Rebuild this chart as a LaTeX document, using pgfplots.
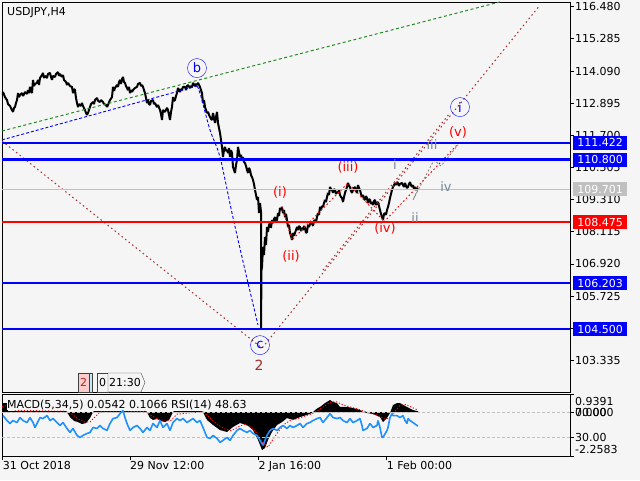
\documentclass[border=0pt]{standalone}
\usepackage{pgfplots}
\pgfplotsset{compat=1.18}
\usepackage{fontspec}
\setmainfont{DejaVu Sans}
\definecolor{bg}{HTML}{F5F5F5}
\definecolor{mtblue}{HTML}{0000FF}
\definecolor{mtred}{HTML}{FF0000}
\definecolor{mtsilver}{HTML}{C0C0C0}
\definecolor{mtgreen}{HTML}{228B22}
\definecolor{mtbrown}{HTML}{A52A2A}
\definecolor{slate}{HTML}{778899}
\definecolor{rsiblue}{HTML}{1E90FF}
\begin{document}
\begin{tikzpicture}[font=\fontsize{11}{13}\selectfont]
\fill[bg] (0pt,0pt) rectangle (640pt,480pt);
\useasboundingbox (0pt,0pt) rectangle (640pt,480pt);
% ---------------- main price panel ----------------
\begin{axis}[at={(2pt,88pt)}, anchor=south west, width=568pt, height=390pt, scale only axis,
  xmin=2, xmax=570, ymin=102.158, ymax=116.656,
  axis line style={black, line width=0.8pt},
  xtick=\empty,
  ytick={116.480,115.285,114.090,112.895,111.700,110.505,109.310,108.115,106.920,105.725,104.530,103.335},
  yticklabels={116.480,115.285,114.090,112.895,111.700,110.505,109.310,108.115,106.920,105.725,104.530,103.335},
  ytick pos=right, yticklabel pos=right, tick align=outside, major tick length=4pt,
  tick style={black, line width=0.8pt},
  yticklabel style={anchor=west, inner sep=1pt, font=\fontsize{11}{13}\selectfont},
]
% price (H4 closes / swings)
\addplot[black, line width=2pt, line join=bevel] coordinates {
(2,113.20)(3,113.31)(5,113.12)(7,113.01)(8,112.86)(10,112.79)(12,112.64)(13,112.57)(14,112.72)(15,112.75)(16,112.90)(17,113.01)(18,113.27)(19,113.12)(20,113.20)(22,113.27)(23,113.16)(25,113.31)(27,113.24)(28,113.38)(29,113.27)(30,113.50)(31,113.35)(32,113.27)(33,113.76)(34,113.53)(35,113.61)(37,113.65)(38,113.76)(39,113.57)(40,113.83)(42,113.94)(43,114.02)(44,113.83)(45,113.91)(47,113.83)(48,113.98)(50,114.02)(51,113.87)(52,113.76)(53,113.91)(55,113.87)(56,113.98)(58,114.05)(59,113.91)(60,113.98)(62,113.87)(63,113.94)(64,113.76)(66,113.68)(67,113.57)(68,113.65)(70,113.53)(72,113.50)(73,113.27)(74,113.42)(75,113.38)(76,113.09)(77,112.90)(78,112.75)(79,112.86)(81,112.79)(82,112.90)(83,112.79)(85,112.64)(86,112.53)(87,112.46)(88,112.53)(89,112.64)(90,112.75)(91,112.86)(93,112.94)(94,112.86)(95,113.01)(97,113.09)(98,112.98)(100,112.94)(101,113.01)(103,112.94)
(104,112.86)(106,112.83)(107,112.75)(108,112.83)(110,113.01)(112,113.12)(113,113.50)(114,113.35)(115,113.46)(117,113.57)(118,113.50)(119,113.68)(120,113.76)(121,113.61)(122,113.79)(123,113.87)(124,113.68)(125,113.65)(126,113.53)(127,113.46)(128,113.38)(129,113.50)(130,113.27)(131,113.38)(132,113.31)(133,113.38)(135,113.46)(137,113.50)(138,113.61)(140,113.65)(141,113.53)(142,113.57)(143,113.50)(144,113.38)(145,113.27)(146,113.09)(147,112.90)(148,113.01)(149,112.86)(150,112.83)(151,112.98)(153,113.01)(154,112.86)(155,112.90)(157,112.75)(158,112.83)(160,112.64)(161,112.49)(162,112.27)(163,112.64)(165,112.57)(167,112.72)(168,112.64)(169,112.46)(170,112.27)(171,112.57)(172,112.75)(173,113.12)(174,112.98)(175,113.01)(176,113.16)(177,113.27)(178,113.46)(180,113.31)(181,113.42)(182,113.38)(183,113.50)(185,113.50)(186,113.38)(187,113.53)(188,113.57)(190,113.46)(191,113.53)(192,113.50)(193,113.65)(195,113.53)(196,113.61)(197,113.57)(198,113.65)(200,113.50)(201,113.38)(202,113.27)(203,112.90)(204,113.01)(205,112.75)(206,112.64)(207,112.53)
(208,112.57)(209,112.46)(210,112.38)(211,112.31)(212,112.27)(213,112.53)(214,112.34)(215,112.16)(216,112.38)(217,112.57)(218,112.16)(219,111.97)(220,111.79)(221,111.53)(222,111.27)(223,110.89)(224,111.15)(225,111.27)(226,111.12)(227,111.15)(228,111.04)(229,111.23)(230,110.89)(231,111.15)(232,111.04)(233,110.52)(234,110.41)(235,110.30)(236,110.60)(237,110.78)(238,111.27)(239,111.08)(240,110.89)(241,110.97)(242,110.78)(243,110.89)(244,110.71)(245,110.67)(246,110.56)(247,110.41)(248,110.30)(249,110.49)(250,110.41)(251,110.22)(252,110.15)(253,110.04)(254,109.89)(255,109.67)(257,109.30)(258,109.41)(259,108.81)(260,109.18)(261,108.85)(261,104.54)(261.5,106.69)(262,106.80)(263,107.55)(264,107.25)(265,107.92)(266,107.62)(267,108.29)(268,108.11)(269,108.37)(270,108.44)(271,108.26)(272,108.55)(273,108.44)(274,108.59)(275,108.66)(276,108.52)(277,108.55)(278,108.81)(279,108.70)(280,109.00)(281,108.92)(282,109.04)(283,108.81)(284,108.92)(285,108.66)(286,108.78)(287,108.55)(288,108.29)(289,108.37)(290,108.07)(291,107.96)(292,107.81)(293,108.07)
(294,107.96)(295,108.07)(296,108.18)(297,108.29)(298,108.18)(299,108.33)(300,108.29)(301,108.14)(302,108.26)(303,108.18)(304,108.33)(305,108.26)(306,108.07)(307,108.11)(308,108.37)(309,108.29)(310,108.40)(312,108.44)(313,108.33)(314,108.52)(315,108.55)(316,108.48)(317,108.66)(318,108.81)(319,108.74)(320,109.04)(321,108.92)(322,109.07)(323,109.04)(324,109.18)(325,109.30)(326,109.22)(327,109.41)(328,109.56)(329,109.48)(330,109.78)(331,109.70)(332,109.67)(333,109.56)(334,109.70)(335,109.67)(336,109.52)(337,109.59)(338,109.56)(339,109.67)(340,109.48)(341,109.41)(342,109.37)(343,109.22)(344,109.41)(345,109.56)(346,109.67)(347,109.78)(348,109.93)(349,109.82)(350,109.78)(351,109.63)(352,109.56)(353,109.67)(354,109.74)(355,109.78)(356,109.63)(357,109.56)(358,109.85)(359,109.74)(360,109.67)(361,109.52)(362,109.41)(363,109.48)(364,109.33)(365,109.30)(366,109.44)(367,109.37)(368,109.18)(369,109.33)(370,109.30)(371,109.15)(372,109.22)(373,109.11)(374,109.26)(375,109.30)(376,109.11)(377,109.18)(378,109.22)(379,109.07)(380,108.92)(381,108.78)(382,108.66)(383,108.55)(384,108.78)(385,108.81)(386,108.74)(387,108.92)(388,109.04)(389,109.18)(390,109.37)(391,109.52)(392,109.67)(393,109.78)(394,109.85)(395,109.93)(396,109.85)(397,109.96)(398,109.93)(399,109.82)(400,109.89)(402,109.93)(403,109.85)(404,109.78)(405,109.93)(406,109.82)(407,109.74)(408,109.78)(409,109.89)(410,109.96)(411,109.85)(412,109.78)(413,109.85)(414,109.70)(415,109.78)(416,109.67)(417,109.74)(418,109.70)
};
% trend / wave lines
\addplot[mtgreen, line width=1pt, dash pattern=on 3pt off 2.5pt] coordinates {(2,111.86) (500,116.66)};
\addplot[mtblue, line width=0.9pt, dash pattern=on 3pt off 2pt] coordinates {(2,111.53) (197,113.53)};
\addplot[mtblue, line width=0.9pt, dash pattern=on 3pt off 2pt, smooth] coordinates {(197,113.53) (200,113.27) (210,111.90) (220,110.89) (232,108.81) (245,106.69) (258,104.65)};
\addplot[mtbrown, line width=1pt, dash pattern=on 1.5pt off 3pt] coordinates {(2,111.49) (262,103.79) (540,116.54)};
\addplot[mtbrown, line width=1pt, dash pattern=on 1.5pt off 3pt] coordinates {(323,106.69) (450,112.53)};
\addplot[mtred, line width=1pt, dash pattern=on 1.5pt off 2.5pt] coordinates {(384,108.48) (458,111.38)};
\addplot[mtred, line width=1pt, dash pattern=on 1.5pt off 2.5pt] coordinates {(282,109.04) (292,107.81) (348,109.93) (383,108.55)};
\addplot[gray, line width=0.8pt, dash pattern=on 2pt off 2pt] coordinates {(418,109.70) (413,109.30) (434,110.78) (441,110.56) (458,111.34)};
% horizontal levels
\addplot[mtsilver, line width=1pt] coordinates {(2,109.701) (570,109.701)};
\addplot[mtblue, line width=2.2pt] coordinates {(2,111.422) (570,111.422)};
\addplot[mtblue, line width=2.2pt] coordinates {(2,110.800) (570,110.800)};
\addplot[mtred, line width=2.2pt] coordinates {(2,108.475) (570,108.475)};
\addplot[mtblue, line width=2.2pt] coordinates {(2,106.203) (570,106.203)};
\addplot[mtblue, line width=2.2pt] coordinates {(2,104.500) (570,104.500)};
% wave labels
\node[text=mtblue, draw=mtblue, circle, inner sep=0pt, minimum size=19pt, font=\fontsize{13}{13}\selectfont] at (axis cs:197,114.20) {b};
\node[text=mtblue, draw=mtblue, circle, inner sep=0pt, minimum size=19pt, font=\fontsize{13}{13}\selectfont] at (axis cs:260,103.90) {c};
\node[text=mtblue, draw=mtblue, circle, inner sep=0pt, minimum size=19pt, font=\fontsize{13}{13}\selectfont] at (axis cs:460,112.75) {i};
\node[text=mtbrown, font=\fontsize{14}{14}\selectfont] at (axis cs:259,103.16) {2};
\node[text=mtred, font=\fontsize{13}{13}\selectfont] at (axis cs:280,109.59) {(i)};
\node[text=mtred, font=\fontsize{13}{13}\selectfont] at (axis cs:291,107.18) {(ii)};
\node[text=mtred, font=\fontsize{13}{13}\selectfont] at (axis cs:348,110.52) {(iii)};
\node[text=mtred, font=\fontsize{13}{13}\selectfont] at (axis cs:385,108.25) {(iv)};
\node[text=mtred, font=\fontsize{13}{13}\selectfont] at (axis cs:458,111.82) {(v)};
\node[text=slate, font=\fontsize{13}{13}\selectfont] at (axis cs:395,110.60) {i};
\node[text=slate, font=\fontsize{13}{13}\selectfont] at (axis cs:415,108.63) {ii};
\node[text=slate, font=\fontsize{13}{13}\selectfont] at (axis cs:432,111.34) {iii};
\node[text=slate, font=\fontsize{13}{13}\selectfont] at (axis cs:446,109.78) {iv};
\coordinate (L1) at (axis cs:570,111.422);
\coordinate (L2) at (axis cs:570,110.800);
\coordinate (L3) at (axis cs:570,109.701);
\coordinate (L4) at (axis cs:570,108.475);
\coordinate (L5) at (axis cs:570,106.203);
\coordinate (L6) at (axis cs:570,104.500);
\end{axis}
% price level boxes
\foreach \c/\col/\txt/\tc in {L1/mtblue/111.422/white, L2/mtblue/110.800/white, L3/mtsilver/109.701/white, L4/mtred/108.475/white, L5/mtblue/106.203/white, L6/mtblue/104.500/white}{
  \node[anchor=west, fill=\col, text=\tc, minimum width=54pt, minimum height=14pt, inner sep=0pt] at ([xshift=3pt]\c) {\txt};
}
\node[anchor=west, inner sep=0pt] at (7pt,467.5pt) {USDJPY,H4};
% timer boxes
\draw[draw=darkgray, fill=pink!80] (78pt,88pt) rectangle (89pt,107pt);
\node[text=mtbrown] at (83.5pt,97.5pt) {2};
\draw[draw=darkgray, fill=cyan!25] (89pt,88pt) rectangle (92pt,107pt);
\draw[draw=darkgray, fill=bg] (97pt,88pt) rectangle (108pt,107pt);
\node at (102.5pt,97.5pt) {0};
\draw[draw=darkgray, fill=bg] (108pt,88pt) -- (141pt,88pt) -- (145pt,97.5pt) -- (141pt,107pt) -- (108pt,107pt) -- cycle;
\node at (125pt,97.5pt) {21:30};
% ---------------- indicator panel ----------------
\begin{axis}[at={(2pt,24pt)}, anchor=south west, width=568pt, height=62pt, scale only axis,
  xmin=2, xmax=570, ymin=-2.2583, ymax=0.9391,
  axis line style={black, line width=0.8pt},
  ytick=\empty,
  xtick={2.7,130,258.3,386.7},
  xticklabels={31 Oct 2018, 29 Nov 12:00, 2 Jan 16:00, 1 Feb 00:00},
  xtick pos=bottom, tick align=outside, major tick length=4pt,
  tick style={black, line width=0.8pt},
  xticklabel style={anchor=north west, inner sep=0pt, yshift=-1pt, font=\fontsize{11}{13}\selectfont},
]
\addplot[fill=black, draw=none] coordinates {
(2,0)(3,0.47)(7,0.47)(8,0.05)(66,0.05)(67,0)(70,-0.25)(74,-0.45)(78,-0.51)(82,-0.61)(86,-0.56)(90,-0.30)(93,0)(94,0.05)(146,0.05)(147,0)(150,-0.30)(153,-0.40)(157,-0.35)(161,-0.45)(165,-0.51)(169,-0.40)(173,0)(174,0.05)(202,0.05)(203,0)(207,-0.40)(213,-0.66)(220,-0.92)(227,-1.02)(233,-0.76)(240,-0.56)(247,-0.66)(253,-0.92)(258,-1.43)(262,-1.95)(265,-1.85)(268,-1.43)(272,-1.02)(277,-0.66)(282,-0.51)(287,-0.30)(293,-0.40)(300,-0.25)(307,-0.14)(312,-0.04)(315,0.11)(318,0.22)(320,0.27)(325,0.47)(330,0.63)(333,0.53)(337,0.47)(340,0.27)(347,0.27)(353,0.22)(360,0.11)(363,0.01)(367,-0.04)(373,-0.09)(380,-0.25)(383,-0.51)(387,-0.30)(390,-0.04)(393,0.37)(397,0.47)(400,0.47)(407,0.27)(413,0.11)(418,0.05)(418,0)
} -- cycle;
\addplot[mtred, line width=0.9pt, dash pattern=on 1.2pt off 1.8pt] coordinates {
(2,0.30)(10,0.35)(15,0.10)(66,0.05)(72,-0.10)(78,-0.35)(84,-0.50)(90,-0.50)(96,-0.20)(100,0.02)(146,0.03)(152,-0.20)(158,-0.35)(165,-0.45)(171,-0.42)(177,-0.10)(203,0.03)(210,-0.30)(217,-0.60)(224,-0.85)(231,-0.95)(237,-0.80)(244,-0.62)(251,-0.75)(257,-1.10)(263,-1.60)(268,-1.80)(273,-1.40)(279,-0.95)(285,-0.60)(291,-0.40)(298,-0.33)(305,-0.20)(312,-0.08)(318,0.10)(324,0.30)(330,0.50)(336,0.55)(342,0.40)(350,0.27)(357,0.18)(364,0.05)(370,-0.04)(377,-0.14)(384,-0.35)(390,-0.30)(395,0.05)(400,0.35)(406,0.40)(412,0.25)(418,0.11)
};
\end{axis}
\begin{axis}[at={(2pt,24pt)}, anchor=south west, width=568pt, height=62pt, scale only axis,
  xmin=2, xmax=570, ymin=0, ymax=100, hide axis]
\addplot[mtsilver, line width=1pt, dash pattern=on 3pt off 2pt] coordinates {(2,70) (570,70)};
\addplot[mtsilver, line width=1pt, dash pattern=on 3pt off 2pt] coordinates {(2,30) (570,30)};
\addplot[rsiblue, line width=1.6pt, line join=bevel] coordinates {
(3,65.2)(7,57.2)(10,52.4)(13,57.2)(17,54.0)(20,62.0)(23,57.2)(27,54.0)(30,62.0)(33,54.0)(35,46.0)(37,52.4)(40,62.0)(43,60.4)(47,65.2)(50,57.2)(53,60.4)(57,54.0)(60,49.2)(63,54.0)(67,44.4)(70,38.0)(73,44.4)(77,33.2)(80,30.0)(83,33.2)(87,36.4)(90,38.0)(93,46.0)(97,44.4)(100,49.2)(103,44.4)(107,41.2)(110,52.4)(113,60.4)(117,62.0)(120,68.4)(123,73.2)(125,62.0)(127,52.4)(130,41.2)(133,46.0)(137,49.2)(140,44.4)(143,38.0)(147,46.0)(150,41.2)(153,52.4)(157,46.0)(160,57.2)(163,46.0)(167,52.4)(170,41.2)(173,54.0)(177,60.4)(180,57.2)(183,60.4)(187,54.0)(190,57.2)(193,60.4)(197,54.0)(200,57.2)(203,46.0)(207,30.0)(210,28.4)(213,33.2)(217,28.4)(220,22.0)(223,25.2)(227,30.0)(230,25.2)(233,33.2)(237,41.2)(240,44.4)(243,41.2)(247,38.0)(250,41.2)(253,36.4)(257,33.2)(260,25.2)(263,17.2)(265,25.2)(267,33.2)(270,41.2)(273,44.4)(277,41.2)(280,46.0)(283,49.2)(287,44.4)(290,49.2)(293,46.0)(297,49.2)(300,52.4)(303,46.0)(307,52.4)(310,54.0)(313,57.2)(317,60.4)(320,62.0)(323,54.0)(327,62.0)(330,68.4)(333,62.0)(337,60.4)(340,62.0)(343,57.2)(347,54.0)(350,60.4)(353,54.0)(357,57.2)(360,60.4)(362,49.2)(363,41.2)(367,44.4)(370,52.4)(373,46.0)(377,49.2)(378,57.2)(380,46.0)(382,30.0)(383,30.0)(387,41.2)(388,46.0)(390,62.0)(392,68.4)(393,65.2)(397,65.2)(400,62.0)(403,65.2)(405,57.2)(407,52.4)(408,60.4)(410,57.2)(413,54.0)(417,49.2)(418,48.6)
};
\end{axis}
\node[anchor=west, inner sep=0pt, fill=bg] at (7pt,75pt) {MACD(5,34,5) 0.0542 0.1066 RSI(14) 48.63};
% indicator scale
\draw[black, line width=0.8pt] (570pt,86pt) -- (574pt,86pt) (570pt,68pt) -- (574pt,68pt) (570pt,43pt) -- (574pt,43pt) (570pt,24pt) -- (574pt,24pt);
\node[anchor=west, inner sep=0pt] at (575pt,79pt) {0.9391};
\node[anchor=west, inner sep=0pt] at (575pt,68pt) {0.0000};
\node[anchor=west, inner sep=0pt] at (575pt,68pt) {70.00};
\node[anchor=west, inner sep=0pt] at (575pt,43pt) {30.00};
\node[anchor=west, inner sep=0pt] at (575pt,31pt) {-2.2583};
\end{tikzpicture}
\end{document}
